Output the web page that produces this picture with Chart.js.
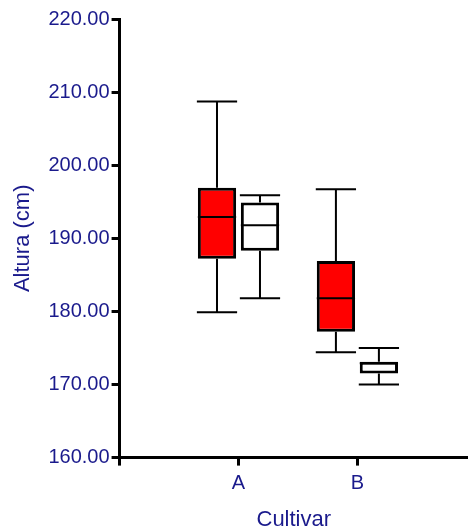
<!DOCTYPE html>
<html>
<head>
<meta charset="utf-8">
<script src="https://cdn.jsdelivr.net/npm/chart.js@4.4.1/dist/chart.umd.min.js"></script>
<style>
  html, body { margin: 0; padding: 0; background: #ffffff; }
  #wrap { width: 468px; height: 530px; }
</style>
</head>
<body>
<div id="wrap"><canvas id="c" width="468" height="530"></canvas></div>
<script>
// ---- data ----
const categories = ['A', 'B'];
const yTicks = [160, 170, 180, 190, 200, 210, 220];

// series 1 (red)
const redMin    = [179.9, 174.4];
const redQ1     = [187.2, 177.2];
const redMedian = [192.9, 181.8];
const redQ3     = [196.9, 186.9];
const redMax    = [208.7, 196.7];

// series 2 (white)
const whiteMin    = [181.8, 170.0];
const whiteQ1     = [188.3, 171.5];
const whiteMedian = [191.8, 172.9];
const whiteQ3     = [194.9, 173.1];
const whiteMax    = [195.9, 175.0];

const textColor = '#1a1a8c';
const fontFamily = 'Arial, "Liberation Sans", Helvetica, sans-serif';

function boxData(q1, q3) {
  return categories.map((c, i) => ({ x: i + 1, y: [q1[i], q3[i]] }));
}

const stats = [
  { min: redMin, med: redMedian, max: redMax, q1: redQ1, q3: redQ3 },
  { min: whiteMin, med: whiteMedian, max: whiteMax, q1: whiteQ1, q3: whiteQ3 }
];

const whiskerPlugin = {
  id: 'whiskers',
  afterDatasetsDraw(chart) {
    const ctx = chart.ctx;
    const ys = chart.scales.y;
    ctx.save();
    ctx.strokeStyle = '#000000';
    ctx.lineWidth = 2;
    chart.data.datasets.forEach((ds, di) => {
      const meta = chart.getDatasetMeta(di);
      const s = stats[di];
      meta.data.forEach((el, i) => {
        const props = el.getProps(['x', 'width'], true);
        const x = props.x;
        const half = props.width / 2;
        const capHalf = half + 1;
        const pMin = ys.getPixelForValue(s.min[i]);
        const pMax = ys.getPixelForValue(s.max[i]);
        const pQ1 = ys.getPixelForValue(s.q1[i]);
        const pQ3 = ys.getPixelForValue(s.q3[i]);
        const pMed = ys.getPixelForValue(s.med[i]);
        ctx.beginPath();
        ctx.moveTo(x, pQ3); ctx.lineTo(x, pMax);
        ctx.moveTo(x - capHalf, pMax); ctx.lineTo(x + capHalf, pMax);
        ctx.moveTo(x, pQ1); ctx.lineTo(x, pMin);
        ctx.moveTo(x - capHalf, pMin); ctx.lineTo(x + capHalf, pMin);
        ctx.moveTo(x - half, pMed); ctx.lineTo(x + half, pMed);
        ctx.stroke();
      });
    });
    ctx.restore();
  }
};

new Chart(document.getElementById('c'), {
  type: 'bar',
  data: {
    datasets: [
      {
        label: 'red',
        data: boxData(redQ1, redQ3),
        backgroundColor: '#ff0000',
        borderColor: '#000000',
        borderWidth: 3,
        borderSkipped: false,
        categoryPercentage: 0.723,
        barPercentage: 0.89
      },
      {
        label: 'white',
        data: boxData(whiteQ1, whiteQ3),
        backgroundColor: '#ffffff',
        borderColor: '#000000',
        borderWidth: 3,
        borderSkipped: false,
        categoryPercentage: 0.723,
        barPercentage: 0.89
      }
    ]
  },
  options: {
    responsive: false,
    animation: false,
    layout: { padding: { top: 19, right: 0, left: 10, bottom: 0 } },
    plugins: {
      legend: { display: false },
      tooltip: { enabled: false }
    },
    scales: {
      x: {
        type: 'linear',
        offset: false,
        min: 0,
        max: 2.93,
        afterBuildTicks: (scale) => {
          scale.ticks = [0, 1, 2].map(v => ({ value: v }));
        },
        ticks: {
          autoSkip: false,
          maxRotation: 0,
          color: textColor,
          font: { family: fontFamily, size: 20 },
          padding: 6,
          callback: (v) => (v >= 1 ? categories[v - 1] : '')
        },
        grid: {
          display: true,
          offset: false,
          drawOnChartArea: false,
          drawTicks: true,
          tickLength: 8,
          tickColor: '#000000',
          tickWidth: 3
        },
        border: { display: true, color: '#000000', width: 3 },
        title: {
          display: true,
          text: 'Cultivar',
          color: textColor,
          font: { family: fontFamily, size: 22 },
          padding: { top: 5, bottom: -3 }
        }
      },
      y: {
        min: 160,
        max: 220,
        afterBuildTicks: (scale) => {
          scale.ticks = yTicks.map(v => ({ value: v }));
        },
        ticks: {
          color: textColor,
          font: { family: fontFamily, size: 20 },
          padding: 2,
          callback: (v) => Number(v).toFixed(2)
        },
        grid: {
          display: true,
          drawOnChartArea: false,
          drawTicks: true,
          tickLength: 8,
          tickColor: '#000000',
          tickWidth: 3
        },
        border: { display: true, color: '#000000', width: 3 },
        title: {
          display: true,
          text: 'Altura (cm)',
          color: textColor,
          font: { family: fontFamily, size: 22 },
          padding: { top: 0, bottom: 10 }
        }
      }
    }
  },
  plugins: [whiskerPlugin]
});
</script>
</body>
</html>
